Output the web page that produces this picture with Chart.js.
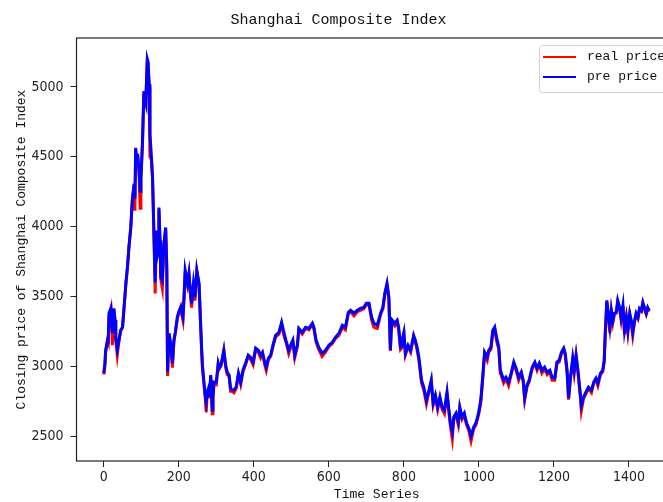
<!DOCTYPE html>
<html>
<head>
<meta charset="utf-8">
<title>Shanghai Composite Index</title>
<script src="https://cdn.jsdelivr.net/npm/chart.js@4.4.1/dist/chart.umd.min.js"></script>
<style>
  html, body { margin: 0; padding: 0; background: #fff; overflow: hidden; }
  #wrap { width: 663px; height: 502px; overflow: hidden; }
  canvas { display: block; }
</style>
</head>
<body>
<div id="wrap"><canvas id="c" width="700" height="502"></canvas></div>
<script>
// Trading-day index of each sample
const timeIndex = [
  0, 3, 5, 10, 12, 14, 19, 23, 27, 30,
  32, 36, 40, 45, 50, 54, 59, 63, 67, 72,
  76, 81, 83, 85, 88, 90, 94, 97, 99, 103,
  107, 110, 112, 114, 116, 118, 121, 123, 127, 130,
  134, 137, 140, 143, 145, 147, 150, 152, 156, 159,
  162, 165, 168, 170, 172, 174, 178, 183, 187, 191,
  196, 200, 205, 208, 211, 214, 217, 220, 223, 227,
  230, 234, 239, 243, 248, 251, 254, 258, 261, 263,
  267, 270, 273, 276, 279, 282, 285, 287, 289, 291,
  294, 300, 305, 308, 312, 316, 320, 325, 329, 334,
  338, 342, 347, 353, 359, 365, 371, 378, 385, 391,
  398, 405, 412, 418, 423, 429, 433, 439, 445, 451,
  458, 467, 474, 480, 487, 493, 500, 504, 509, 516,
  520, 529, 538, 547, 556, 560, 566, 573, 582, 591,
  600, 609, 618, 627, 636, 644, 652, 658, 667, 676,
  684, 693, 700, 707, 714, 720, 729, 738, 744, 749,
  755, 760, 762, 764, 766, 769, 776, 782, 786, 791,
  794, 797, 800, 804, 811, 818, 826, 830, 835, 840,
  847, 853, 860, 867, 873, 878, 884, 890, 896, 902,
  908, 915, 920, 924, 929, 933, 939, 945, 949, 955,
  961, 967, 973, 979, 986, 992, 999, 1005, 1010, 1015,
  1022, 1026, 1032, 1037, 1042, 1047, 1053, 1057, 1060, 1066,
  1072, 1079, 1086, 1093, 1099, 1106, 1113, 1118, 1122, 1128,
  1134, 1142, 1149, 1155, 1161, 1168, 1175, 1182, 1189, 1195,
  1202, 1208, 1214, 1220, 1226, 1230, 1235, 1239, 1244, 1250,
  1254, 1259, 1264, 1270, 1273, 1279, 1285, 1292, 1300, 1306,
  1312, 1317, 1324, 1330, 1334, 1337, 1341, 1346, 1349, 1353,
  1357, 1361, 1366, 1370, 1375, 1379, 1384, 1388, 1393, 1397,
  1402, 1406, 1410, 1414, 1419, 1424, 1428, 1433, 1437, 1442,
  1446, 1450, 1454
];

// Actual closing prices
const realPrice = [
  2940, 3000, 3100, 3186, 3170, 3360, 3414, 3150, 3400, 3330,
  3190, 3080, 3170, 3250, 3279, 3410, 3593, 3700, 3850, 3990,
  4186, 4300, 4114, 4550, 4440, 4521, 4380, 4130, 4340, 4580,
  4960, 4880, 4870, 5040, 5180, 5170, 5000, 4500, 4480, 4340,
  3900, 3520, 3960, 3780, 3820, 4120, 3880, 3620, 3560, 3790,
  3910, 3980, 3690, 2930, 3090, 3220, 3150, 2990, 3180, 3240,
  3340, 3380, 3421, 3370, 3330, 3490, 3680, 3620, 3580, 3660,
  3540, 3420, 3590, 3470, 3680, 3630, 3580, 3300, 3100, 2990,
  2870, 2790, 2671, 2810, 2830, 2770, 2930, 2810, 2660, 2770,
  2880, 2870, 3010, 2980, 3000, 3050, 3110, 2990, 2940, 2930,
  2820, 2820, 2810, 2840, 2940, 2870, 2960, 3010, 3070, 3050,
  3010, 3120, 3100, 3060, 3090, 3010, 2970, 3050, 3070, 3140,
  3210, 3230, 3300, 3220, 3160, 3090, 3150, 3180, 3060, 3140,
  3260, 3230, 3270, 3260, 3300, 3270, 3170, 3120, 3070, 3100,
  3140, 3160, 3200, 3220, 3280, 3260, 3380, 3390, 3360, 3390,
  3400, 3410, 3440, 3440, 3330, 3280, 3270, 3370, 3410, 3510,
  3580, 3480, 3290, 3110, 3240, 3320, 3290, 3320, 3260, 3120,
  3130, 3200, 3230, 3080, 3140, 3100, 3210, 3180, 3120, 3040,
  2880, 2830, 2730, 2820, 2890, 2720, 2780, 2690, 2770, 2690,
  2660, 2800, 2670, 2570, 2480, 2620, 2650, 2580, 2700, 2620,
  2650, 2580, 2540, 2464, 2550, 2580, 2650, 2740, 2900, 3080,
  3040, 3100, 3120, 3240, 3270, 3180, 3120, 2950, 2930, 2880,
  2910, 2860, 2940, 3020, 2970, 2900, 2950, 2890, 2760, 2850,
  2890, 2980, 3020, 2970, 3010, 2950, 2980, 2940, 2960, 2900,
  2900, 3020, 3030, 3090, 3120, 3080, 2950, 2760, 2910, 3040,
  2950, 3070, 2950, 2790, 2680, 2770, 2800, 2840, 2810, 2880,
  2900, 2860, 2940, 2960, 3030, 3240, 3460, 3330, 3236, 3390,
  3310, 3370, 3380, 3460, 3410, 3330, 3430, 3230, 3340, 3240,
  3370, 3310, 3220, 3300, 3370, 3340, 3400, 3390, 3450, 3400,
  3370, 3410, 3390
];

// Predicted closing prices
const prePrice = [
  2950, 3020, 3114, 3186, 3180, 3378, 3414, 3236, 3414, 3330,
  3207, 3120, 3180, 3257, 3279, 3420, 3593, 3707, 3850, 3993,
  4186, 4307, 4200, 4564, 4450, 4521, 4400, 4250, 4350, 4593,
  4971, 4900, 4879, 5050, 5200, 5180, 5021, 4664, 4500, 4350,
  3921, 3600, 3971, 3800, 3828, 4136, 3900, 3636, 3614, 3800,
  3921, 3993, 3707, 2960, 3100, 3236, 3164, 3021, 3186, 3250,
  3350, 3390, 3421, 3380, 3350, 3500, 3686, 3640, 3593, 3664,
  3560, 3450, 3593, 3493, 3686, 3640, 3593, 3314, 3114, 3007,
  2886, 2800, 2743, 2820, 2843, 2780, 2936, 2820, 2686, 2780,
  2886, 2886, 3021, 2990, 3007, 3057, 3114, 3007, 2957, 2936,
  2843, 2830, 2829, 2850, 2950, 2886, 2971, 3021, 3079, 3064,
  3029, 3129, 3114, 3079, 3100, 3029, 2993, 3057, 3079, 3150,
  3221, 3243, 3314, 3243, 3171, 3114, 3164, 3186, 3079, 3150,
  3271, 3243, 3279, 3271, 3307, 3279, 3186, 3136, 3093, 3114,
  3150, 3171, 3207, 3236, 3293, 3279, 3386, 3400, 3379, 3400,
  3414, 3421, 3450, 3450, 3350, 3307, 3293, 3379, 3421, 3521,
  3593, 3493, 3300, 3114, 3250, 3329, 3307, 3329, 3279, 3136,
  3140, 3207, 3243, 3093, 3150, 3114, 3221, 3190, 3136, 3064,
  2900, 2850, 2757, 2829, 2900, 2736, 2793, 2707, 2779, 2707,
  2686, 2814, 2686, 2593, 2530, 2636, 2664, 2600, 2707, 2636,
  2664, 2593, 2557, 2500, 2564, 2593, 2664, 2757, 2921, 3100,
  3064, 3114, 3136, 3257, 3279, 3207, 3136, 2971, 2950, 2900,
  2921, 2886, 2950, 3029, 2986, 2921, 2957, 2900, 2771, 2864,
  2900, 2993, 3029, 2986, 3021, 2971, 2993, 2957, 2971, 2921,
  2914, 3029, 3043, 3100, 3129, 3093, 2971, 2771, 2921, 3057,
  2971, 3079, 2971, 2807, 2720, 2779, 2814, 2850, 2829, 2886,
  2914, 2879, 2950, 2971, 3043, 3257, 3471, 3350, 3280, 3400,
  3329, 3379, 3386, 3471, 3421, 3350, 3436, 3257, 3350, 3257,
  3379, 3329, 3243, 3314, 3379, 3350, 3414, 3400, 3457, 3414,
  3379, 3421, 3400
];

const xTicks = [0, 200, 400, 600, 800, 1000, 1200, 1400];
const yTicks = [2500, 3000, 3500, 4000, 4500, 5000];
const seriesNames = ['real price', 'pre price'];

const labelFont = "'Liberation Mono', 'DejaVu Sans Mono', monospace";
const tickFont = "'Liberation Sans Narrow', 'DejaVu Sans Condensed', 'Liberation Sans', sans-serif";

const toPoints = vals => vals.map((v, i) => ({ x: timeIndex[i], y: v }));

// Frame around the plotting area (all four spines)
const framePlugin = {
  id: 'frame',
  afterDatasetsDraw(chart) {
    const { ctx, chartArea: a } = chart;
    ctx.save();
    ctx.strokeStyle = '#222';
    ctx.lineWidth = 1.2;
    ctx.strokeRect(a.left, a.top, a.right - a.left, a.bottom - a.top);
    ctx.restore();
  }
};

// Boxed legend in the upper right corner of the plotting area
const boxLegendPlugin = {
  id: 'boxLegend',
  afterDraw(chart) {
    const { ctx, chartArea: a } = chart;
    const w = 131, h = 47;
    const x = a.right - 7 - w, y = a.top + 7;
    ctx.save();
    ctx.beginPath();
    ctx.roundRect(x + 0.5, y + 0.5, w, h, 3);
    ctx.fillStyle = 'rgba(255,255,255,0.85)';
    ctx.fill();
    ctx.strokeStyle = '#d0d0d0';
    ctx.lineWidth = 1;
    ctx.stroke();
    ctx.font = "13px " + labelFont;
    ctx.textBaseline = 'middle';
    chart.data.datasets.forEach((ds, i) => {
      const ry = y + 12 + i * 20;
      ctx.strokeStyle = ds.borderColor;
      ctx.lineWidth = 2.2;
      ctx.beginPath();
      ctx.moveTo(x + 4, ry);
      ctx.lineTo(x + 37, ry);
      ctx.stroke();
      ctx.fillStyle = '#111';
      ctx.fillText(ds.label, x + 48, ry);
    });
    ctx.restore();
  }
};

new Chart(document.getElementById('c'), {
  type: 'line',
  data: {
    datasets: [
      {
        label: seriesNames[0],
        data: toPoints(realPrice),
        borderColor: '#ff0000',
        borderWidth: 3,
        pointRadius: 0,
        tension: 0,
        order: 1
      },
      {
        label: seriesNames[1],
        data: toPoints(prePrice),
        borderColor: '#0000ff',
        borderWidth: 3,
        pointRadius: 0,
        tension: 0,
        order: 0
      }
    ]
  },
  options: {
    responsive: false,
    devicePixelRatio: 1,
    animation: false,
    layout: { padding: { left: 0, right: 23, top: 0, bottom: 0 } },
    plugins: {
      legend: { display: false },
      tooltip: { enabled: false },
      title: {
        display: true,
        text: 'Shanghai Composite Index',
        color: '#111',
        font: { family: labelFont, size: 15, weight: 'normal', lineHeight: 1.2 },
        padding: { top: 11, bottom: 9 }
      }
    },
    scales: {
      x: {
        type: 'linear',
        min: -72.7,
        max: 1528,
        afterBuildTicks(scale) { scale.ticks = xTicks.map(v => ({ value: v })); },
        afterFit(scale) { scale.height = 41; },
        grid: { display: true, drawOnChartArea: false, drawTicks: true, tickLength: 6, tickColor: '#222', tickWidth: 1 },
        border: { display: false },
        ticks: {
          color: '#222', padding: 2, maxRotation: 0, autoSkip: false,
          font: { family: tickFont, size: 14 },
          callback: v => String(v)
        },
        title: {
          display: true,
          text: 'Time Series',
          color: '#111',
          font: { family: labelFont, size: 13, lineHeight: 1.2 },
          padding: { top: 0, bottom: 0 }
        }
      },
      y: {
        type: 'linear',
        min: 2321,
        max: 5350,
        afterBuildTicks(scale) { scale.ticks = yTicks.map(v => ({ value: v })); },
        afterFit(scale) { scale.width = 76.5; },
        grid: { display: true, drawOnChartArea: false, drawTicks: true, tickLength: 6, tickColor: '#222', tickWidth: 1 },
        border: { display: false },
        ticks: {
          color: '#222', padding: 7,
          font: { family: tickFont, size: 14 },
          callback: v => String(v)
        },
        title: {
          display: true,
          text: 'Closing price of Shanghai Composite Index',
          color: '#111',
          font: { family: labelFont, size: 13, lineHeight: 1.2 },
          padding: { top: 14, bottom: 0 }
        }
      }
    }
  },
  plugins: [framePlugin, boxLegendPlugin]
});
</script>
</body>
</html>
